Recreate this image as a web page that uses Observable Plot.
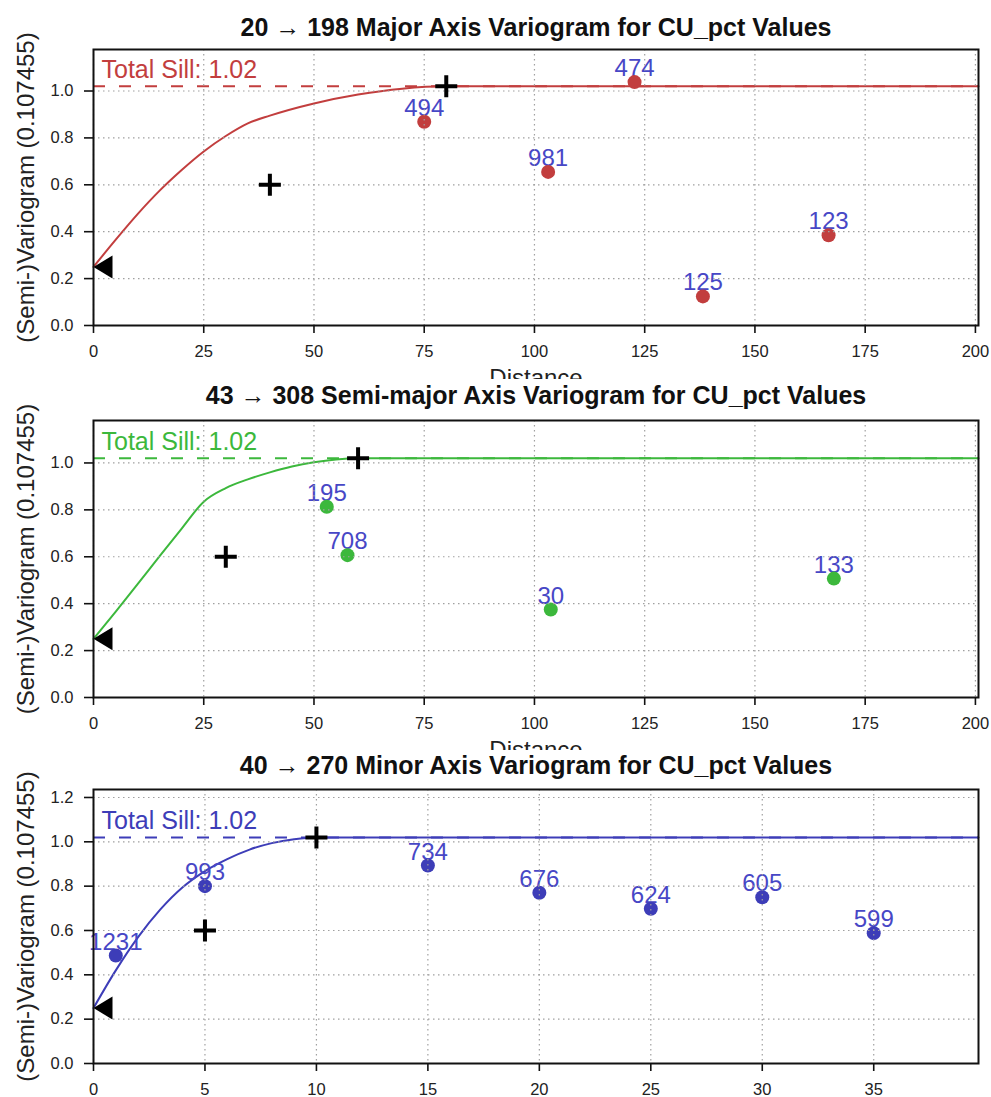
<!DOCTYPE html>
<html>
<head>
<meta charset="utf-8">
<script src="https://cdn.jsdelivr.net/npm/d3@7"></script>
<script src="https://cdn.jsdelivr.net/npm/@observablehq/plot@0.6"></script>
<style>
  body { margin: 0; background: #fff; font-family: "Liberation Sans", Arial, Helvetica, sans-serif; }
  #wrap { position: relative; width: 991px; height: 1097px; overflow: hidden; background: #fff; }
  .panel { position: absolute; left: 0; width: 991px; overflow: hidden; }
  .panel svg { position: absolute; left: 0; top: 0; }
</style>
</head>
<body>
<div id="wrap"></div>
<script>
// ---------- shared text / parameters ----------
const yLabel = "(Semi-)Variogram (0.107455)";
const xLabel = "Distance";
const nugget = 0.25;
const totalSill = 1.02;
const sillText = "Total Sill: 1.02";

// ---------- Panel 1: major axis ----------
const majorTitle = "20 → 198 Major Axis Variogram for CU_pct Values";
const majorLag = [75.0, 103.1, 122.7, 138.2, 166.7];
const majorGamma = [0.869, 0.655, 1.038, 0.124, 0.385];
const majorPairs = [494, 981, 474, 125, 123];
const majorModelLag = [0, 5, 10, 15, 20, 25, 30, 35, 40, 50, 60, 70, 80, 200.7];
const majorModelGamma = [0.25, 0.365, 0.475, 0.575, 0.663, 0.742, 0.808, 0.862, 0.895, 0.947, 0.985, 1.01, 1.02, 1.02];
const majorPlusLag = [40, 80];
const majorPlusGamma = [0.6, 1.02];
const majorXTicks = [0, 25, 50, 75, 100, 125, 150, 175, 200];

// ---------- Panel 2: semi-major axis ----------
const semiTitle = "43 → 308 Semi-major Axis Variogram for CU_pct Values";
const semiLag = [52.9, 57.6, 103.7, 167.9];
const semiGamma = [0.813, 0.607, 0.375, 0.507];
const semiPairs = [195, 708, 30, 133];
const semiModelLag = [0, 5, 10, 15, 20, 25, 30, 35, 40, 45, 50, 55, 60, 200.7];
const semiModelGamma = [0.25, 0.365, 0.483, 0.603, 0.72, 0.835, 0.893, 0.93, 0.96, 0.985, 1.003, 1.015, 1.02, 1.02];
const semiPlusLag = [30, 60];
const semiPlusGamma = [0.6, 1.02];
const semiXTicks = [0, 25, 50, 75, 100, 125, 150, 175, 200];

// ---------- Panel 3: minor axis ----------
const minorTitle = "40 → 270 Minor Axis Variogram for CU_pct Values";
const minorLag = [1, 5, 15, 20, 25, 30, 35];
const minorGamma = [0.487, 0.80, 0.893, 0.77, 0.698, 0.75, 0.588];
const minorPairs = [1231, 993, 734, 676, 624, 605, 599];
const minorModelLag = [0, 1, 2, 3, 4, 5, 6, 7, 8, 9, 10, 39.7];
const minorModelGamma = [0.25, 0.42, 0.57, 0.695, 0.795, 0.868, 0.922, 0.965, 0.994, 1.012, 1.02, 1.02];
const minorPlusLag = [5, 10];
const minorPlusGamma = [0.6, 1.02];
const minorXTicks = [0, 5, 10, 15, 20, 25, 30, 35];

const yTicksA = [0, 0.2, 0.4, 0.6, 0.8, 1.0];
const yTicksB = [0, 0.2, 0.4, 0.6, 0.8, 1.0, 1.2];

// ---------- styles ----------
const FONT = '"Liberation Sans", Arial, Helvetica, sans-serif';
const labelColor = "#4747c6";

const plusSymbol = {
  draw(ctx, size) {
    const s = Math.sqrt(size / Math.PI);
    ctx.moveTo(-s, 0); ctx.lineTo(s, 0);
    ctx.moveTo(0, -s); ctx.lineTo(0, s);
  }
};
const leftTriangle = {
  draw(ctx, size) {
    const s = Math.sqrt(size / Math.PI);
    ctx.moveTo(0, 0);
    ctx.lineTo(1.9 * s, -1.15 * s);
    ctx.lineTo(1.9 * s, 1.15 * s);
    ctx.closePath();
  }
};

function makePanel(cfg) {
  const W = 991, mL = 93, mR = 13;
  const idx = d3.range(cfg.lag.length);
  const midx = d3.range(cfg.mLag.length);
  const pidx = d3.range(cfg.pLag.length);
  const svgH = cfg.svgH;
  const marginBottom = svgH - cfg.marginTop - cfg.frameH;

  const marks = [
    Plot.ruleY([totalSill], { stroke: cfg.color, strokeWidth: 2, strokeDasharray: "12,14" }),
    Plot.line(midx, { x: i => cfg.mLag[i], y: i => cfg.mGamma[i], stroke: cfg.color, strokeWidth: 2, curve: "monotone-x" }),
    Plot.text(idx, { x: i => cfg.lag[i], y: i => cfg.gamma[i], text: i => String(cfg.pairs[i]),
      fill: labelColor, fontSize: 24, lineAnchor: "bottom", dy: -6 }),
    Plot.dot(idx, { x: i => cfg.lag[i], y: i => cfg.gamma[i], r: 7, fill: cfg.color, stroke: "none" }),
    Plot.gridX({ ticks: cfg.xTicks, stroke: "#a0a0a0", strokeOpacity: 1, strokeWidth: 1.2, strokeDasharray: "1.5,3.5" }),
    Plot.gridY({ ticks: cfg.yTicks, stroke: "#a0a0a0", strokeOpacity: 1, strokeWidth: 1.2, strokeDasharray: "1.5,3.5" }),
    Plot.dot(pidx, { x: i => cfg.pLag[i], y: i => cfg.pGamma[i], symbol: plusSymbol, r: 11, stroke: "#000", strokeWidth: 4, fill: "none" }),
    Plot.dot([nugget], { x: () => 0, y: d => d, symbol: leftTriangle, r: 10, fill: "#000", stroke: "none" }),
    Plot.text([sillText], { x: () => 0, y: () => totalSill, text: d => d, textAnchor: "start", lineAnchor: "bottom",
      dx: 8, dy: -8, fill: cfg.color, fontSize: 25 }),
    Plot.frame({ stroke: "#111", strokeWidth: 2 }),
    Plot.axisX({ ticks: cfg.xTicks, tickSize: 8, tickPadding: 12, fontSize: 16.5, label: null,
      stroke: "#111", strokeWidth: 1.6, fill: "#222", tickFormat: d3.format("d") }),
    Plot.axisY({ ticks: cfg.yTicks, tickSize: 9, tickPadding: 11, fontSize: 16.5, label: null,
      stroke: "#111", strokeWidth: 1.6, fill: "#222", tickFormat: d3.format(".1f") }),
    Plot.text([cfg.title], { frameAnchor: "top", textAnchor: "middle", lineAnchor: "bottom", dy: cfg.titleDy, text: d => d,
      fontSize: 25, fontWeight: "bold", fill: "#111" }),
    Plot.text([yLabel], { frameAnchor: "left", textAnchor: "middle", rotate: -90, dx: -67, lineAnchor: "middle", text: d => d,
      fontSize: 24, fill: "#222" })
  ];
  if (cfg.showXLabel) {
    marks.push(Plot.text([xLabel], { frameAnchor: "bottom", textAnchor: "middle", lineAnchor: "bottom", dy: 60, text: d => d,
      fontSize: 24, fill: "#222" }));
  }

  const plot = Plot.plot({
    width: W,
    height: svgH,
    marginLeft: mL,
    marginRight: mR,
    marginTop: cfg.marginTop,
    marginBottom,
    style: { fontFamily: FONT, background: "transparent", overflow: "visible" },
    x: { domain: cfg.xDomain },
    y: { domain: cfg.yDomain },
    marks
  });

  const div = document.createElement("div");
  div.className = "panel";
  div.style.top = cfg.top + "px";
  div.style.height = cfg.height + "px";
  div.appendChild(plot);
  document.getElementById("wrap").appendChild(div);
}

makePanel({
  top: 0, height: 379, svgH: 430, marginTop: 49, frameH: 276, titleDy: -14, showXLabel: true,
  title: majorTitle, lag: majorLag, gamma: majorGamma, pairs: majorPairs,
  mLag: majorModelLag, mGamma: majorModelGamma, pLag: majorPlusLag, pGamma: majorPlusGamma,
  color: "#c23e3e", xDomain: [0, 200.7], yDomain: [0, 1.177], xTicks: majorXTicks, yTicks: yTicksA
});
makePanel({
  top: 379, height: 371, svgH: 430, marginTop: 41, frameH: 277, titleDy: -17, showXLabel: true,
  title: semiTitle, lag: semiLag, gamma: semiGamma, pairs: semiPairs,
  mLag: semiModelLag, mGamma: semiModelGamma, pLag: semiPlusLag, pGamma: semiPlusGamma,
  color: "#3cb83c", xDomain: [0, 200.7], yDomain: [0, 1.181], xTicks: semiXTicks, yTicks: yTicksA
});
makePanel({
  top: 750, height: 347, svgH: 347, marginTop: 39, frameH: 274, titleDy: -16, showXLabel: false,
  title: minorTitle, lag: minorLag, gamma: minorGamma, pairs: minorPairs,
  mLag: minorModelLag, mGamma: minorModelGamma, pLag: minorPlusLag, pGamma: minorPlusGamma,
  color: "#3d3db8", xDomain: [0, 39.7], yDomain: [0, 1.236], xTicks: minorXTicks, yTicks: yTicksB
});
</script>
</body>
</html>
